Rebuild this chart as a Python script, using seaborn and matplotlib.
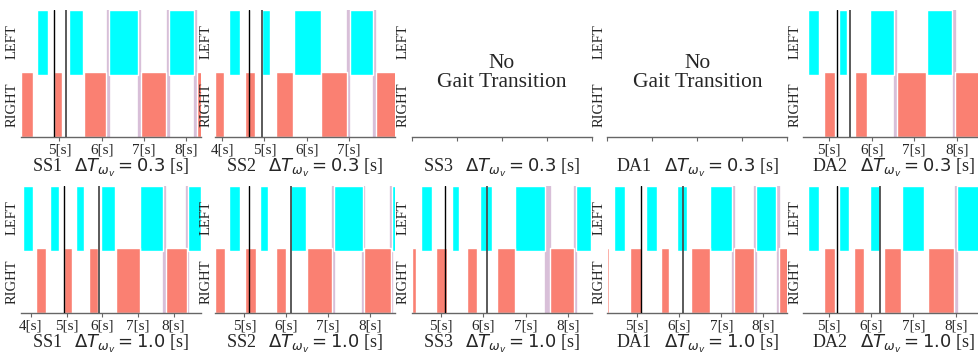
import matplotlib
matplotlib.use("Agg")
import matplotlib.pyplot as plt
import seaborn as sns

# ---------------- data (seconds) ----------------
subjects_top = ["SS1", "SS2", "SS3", "DA1", "DA2"]
subjects_bottom = ["SS1", "SS2", "SS3", "DA1", "DA2"]
delta_top = 0.3
delta_bottom = 1.0

# Row 1 (dT = 0.3 s)
ss1_03_left = [(4.48, 4.73), (5.23, 5.55), (6.17, 6.85), (7.60, 8.19)]
ss1_03_right = [(4.09, 4.37), (4.86, 5.07), (5.58, 6.10), (6.93, 7.52), (8.25, 8.40)]
ss1_03_trans = [6.135, 6.885, 7.56, 8.21]
ss1_03_event = 4.86
ss1_03_ticks = [5, 6, 7, 8]

ss2_03_left = [(4.16, 4.42), (4.95, 5.13), (5.70, 6.33), (7.02, 7.57)]
ss2_03_right = [(3.83, 4.04), (4.54, 4.77), (5.28, 5.67), (6.33, 6.96), (7.63, 8.10)]
ss2_03_trans = [6.98, 7.60]
ss2_03_event = 4.64
ss2_03_ticks = [4, 5, 6, 7]

da2_03_left = [(4.49, 4.76), (5.24, 5.41), (5.96, 6.52), (7.29, 7.90)]
da2_03_right = [(4.88, 5.13), (5.60, 5.90), (6.59, 7.27), (7.96, 8.70)]
da2_03_trans = [6.555, 7.93]
da2_03_event = 5.19
da2_03_ticks = [5, 6, 7, 8]

# Row 2 (dT = 1.0 s)
ss1_10_left = [(3.77, 4.05), (4.53, 4.78), (5.26, 5.48), (5.97, 6.36), (7.07, 7.70), (8.40, 8.76)]
ss1_10_right = [(4.14, 4.42), (4.92, 5.15), (5.62, 5.87), (6.39, 7.06), (7.79, 8.37)]
ss1_10_trans = [7.745, 8.385]
ss1_10_event = 4.92
ss1_10_ticks = [4, 5, 6, 7, 8]

ss2_10_left = [(4.64, 4.90), (5.37, 5.56), (6.09, 6.47), (7.15, 7.82), (8.53, 8.61)]
ss2_10_right = [(4.30, 4.54), (5.02, 5.27), (5.76, 6.00), (6.49, 7.10), (7.86, 8.49)]
ss2_10_trans = [7.125, 7.84, 8.51]
ss2_10_event = 5.12
ss2_10_ticks = [5, 6, 7, 8]

ss3_10_left = [(4.54, 4.79), (5.26, 5.44), (5.92, 6.20), (6.75, 7.45), (8.18, 8.55)]
ss3_10_right = [(4.32, 4.43), (4.89, 5.16), (5.63, 5.85), (6.32, 6.76), (7.57, 8.14)]
ss3_10_trans = [7.48, 7.54, 8.16]
ss3_10_event = 5.10
ss3_10_ticks = [5, 6, 7, 8]

da1_10_left = [(4.46, 4.72), (5.22, 5.47), (5.96, 6.20), (6.74, 7.25), (7.83, 8.29)]
da1_10_right = [(4.30, 4.34), (4.84, 5.12), (5.58, 5.77), (6.28, 6.74), (7.31, 7.78), (8.38, 8.59)]
da1_10_trans = [7.28, 7.805, 8.35]
da1_10_event = 5.09
da1_10_ticks = [5, 6, 7, 8]

da2_10_left = [(4.50, 4.76), (5.24, 5.47), (5.96, 6.21), (6.74, 7.26), (8.03, 8.70)]
da2_10_right = [(4.88, 5.14), (5.59, 5.83), (6.31, 6.71), (7.34, 7.97)]
da2_10_trans = [8.00]
da2_10_event = 5.20
da2_10_ticks = [5, 6, 7, 8]

# ---------------- style ----------------
sns.set_style("ticks")
plt.rcParams["font.family"] = ["Liberation Serif", "DejaVu Sans"]
plt.rcParams["mathtext.fontset"] = "dejavusans"

CYAN = "#00FFFF"
SALMON = "#FA8072"
THISTLE = "#D8BFD8"
W, H = 979, 354

fig = plt.figure(figsize=(W / 100, H / 100), dpi=100)

col_left_px = [21, 215, 411.7, 607.3, 803.3]
row_top_px = [10, 186]
ax_h_px = 127
ax_w_px = 180

row1 = [
    (ss1_03_left, ss1_03_right, ss1_03_trans, ss1_03_event, ss1_03_ticks, (4.09, 8.345)),
    (ss2_03_left, ss2_03_right, ss2_03_trans, ss2_03_event, ss2_03_ticks, (3.83, 8.085)),
    None,
    None,
    (da2_03_left, da2_03_right, da2_03_trans, da2_03_event, da2_03_ticks, (4.39, 8.625)),
]
row2 = [
    (ss1_10_left, ss1_10_right, ss1_10_trans, ss1_10_event, ss1_10_ticks, (3.72, 8.77)),
    (ss2_10_left, ss2_10_right, ss2_10_trans, ss2_10_event, ss2_10_ticks, (4.30, 8.595)),
    (ss3_10_left, ss3_10_right, ss3_10_trans, ss3_10_event, ss3_10_ticks, (4.32, 8.555)),
    (da1_10_left, da1_10_right, da1_10_trans, da1_10_event, da1_10_ticks, (4.30, 8.565)),
    (da2_10_left, da2_10_right, da2_10_trans, da2_10_event, da2_10_ticks, (4.39, 8.655)),
]

rows = [(row1, subjects_top, delta_top), (row2, subjects_bottom, delta_bottom)]

for r, (panels, names, dT) in enumerate(rows):
    for c, panel in enumerate(panels):
        left = col_left_px[c] / W
        bottom = 1 - (row_top_px[r] + ax_h_px) / H
        ax = fig.add_axes([left, bottom, ax_w_px / W, ax_h_px / H])
        ax.set_ylim(-0.5, 1.5)
        ax.set_yticks([1, 0])
        ax.set_yticklabels(["LEFT", "RIGHT"], rotation=90, va="center", fontsize=10.5)
        ax.tick_params(axis="y", length=0, pad=1.5)
        ax.tick_params(axis="x", length=3, width=0.8, color="#666666", pad=1.5, labelsize=11)
        sns.despine(ax=ax, left=True)
        ax.spines["bottom"].set_color("#666666")
        ax.spines["bottom"].set_linewidth(1.0)
        ax.set_facecolor("none")

        if panel is None:
            ax.set_xlim(0, 1)
            ax.set_xticks([0, 0.25, 0.5, 0.75, 1.0])
            ax.set_xticklabels([])
            ax.text(0.5, 0.5, "No\nGait Transition", transform=ax.transAxes,
                    ha="center", va="center", fontsize=15.5, linespacing=1.0)
        else:
            lft, rgt, trans, ev, ticks, xl = panel
            ax.broken_barh([(s, e - s) for s, e in lft], (0.48, 1.02), facecolors=CYAN, zorder=2)
            ax.broken_barh([(s, e - s) for s, e in rgt], (-0.5, 1.02), facecolors=SALMON, zorder=2)
            for t in trans:
                ax.axvline(t, color=THISTLE, lw=2.4, zorder=1.5)
            ax.axvline(ev, color="black", lw=1.0, zorder=3)
            ax.axvline(ev + dT, color="#4d4d4d", lw=1.3, zorder=3)
            ax.set_xlim(*xl)
            ax.set_xticks(ticks)
            ax.set_xticklabels([f"{t}[s]" for t in ticks])

        ax.text(0.5, -0.275, names[c] + r"   $\Delta T_{\omega_v} = " + f"{dT:.1f}" + r"$ [s]",
                transform=ax.transAxes, ha="center", va="baseline", fontsize=13)

fig.savefig("out.png", dpi=100)
